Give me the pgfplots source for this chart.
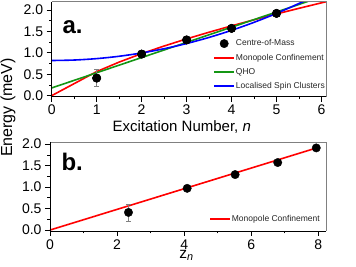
\documentclass[border=0pt]{standalone}
\usepackage{pgfplots}
\pgfplotsset{compat=1.18}
\usepackage{fontspec}
\setmainfont{Liberation Sans}
\definecolor{qgreen}{RGB}{20,150,20}
\definecolor{mred}{RGB}{255,0,0}
\definecolor{lblue}{RGB}{0,0,255}
\begin{document}
\begin{tikzpicture}
\useasboundingbox (0,0) rectangle (356pt,266pt);
\pgfplotsset{
 myax/.style={
  scale only axis,
  axis line style={draw=none},
  tick align=outside, tick pos=left,
  major tick length=5pt, minor tick length=2.5pt,
  every tick/.style={black, line width=0.6pt},
  tick label style={font=\fontsize{14}{14}\selectfont},
  /pgf/number format/assume math mode=true,
  yticklabel style={/pgf/number format/fixed, /pgf/number format/fixed zerofill, /pgf/number format/precision=1},
  ytick={0,0.5,1,1.5,2}, minor y tick num=1,
  label style={font=\fontsize{15}{15}\selectfont},
  legend cell align=left,
 }
}
\begin{axis}[myax, name=top,
  at={(51.7pt,169.5pt)}, anchor=south west,
  width=274.3pt, height=94.7pt,
  xmin=0, xmax=6.1, ymin=-0.02, ymax=2.19,
  xtick={0,1,2,3,4,5,6}, minor x tick num=1,
  xlabel={Excitation Number, \textit{n}},
  xlabel style={at={(rel axis cs:0.474,0)}, anchor=base, yshift=-35.2pt},
  legend style={at={(rel axis cs:1,0)}, anchor=south east, xshift=3pt, draw=none, fill=none, inner sep=3pt,
    font=\fontsize{8.5}{10}\selectfont, text=black!85,
    nodes={text height=8.4pt, text depth=3.8pt, inner sep=1pt}},
]
\addplot[only marks, mark=*, mark size=4.2pt, black,
  legend image code/.code={\fill[black] (10pt,0pt) circle (4.2pt);}]
 coordinates {(1,0.41) (2,0.97) (3,1.30) (4,1.57) (5,1.92)};
\addlegendentry{Centre-of-Mass}
\addplot[mred, line width=1.6pt,
  legend image code/.code={\draw[mred, line width=1.6pt] (0pt,0pt) -- (20pt,0pt);}] coordinates {
 (0,0) (1,0.561) (1.5,0.783) (2,0.981) (2.5,1.158) (3,1.325) (3.5,1.480)
 (4,1.629) (4.5,1.770) (5,1.907) (5.5,2.038) (6,2.166) (6.1,2.19)};
\addlegendentry{Monopole Confinement}
\addplot[qgreen, line width=1.6pt,
  legend image code/.code={\draw[qgreen, line width=1.6pt] (0pt,0pt) -- (20pt,0pt);}] coordinates {(0,0.18) (5.7,2.20)};
\addlegendentry{QHO}
\addplot[lblue, line width=1.6pt, smooth,
  legend image code/.code={\draw[lblue, line width=1.6pt] (0pt,0pt) -- (20pt,0pt);}] coordinates {
 (0,0.82) (0.5,0.831) (1,0.864) (1.5,0.919) (2,0.996) (2.5,1.095) (3,1.216)
 (3.5,1.359) (4,1.524) (4.5,1.711) (5,1.92) (5.5,2.151) (5.6,2.2)};
\addlegendentry{Localised Spin Clusters}
\addplot[forget plot, only marks, mark=*, mark size=4.2pt, black,
  error bars/.cd, y dir=both, y explicit,
  error bar style={gray, line width=0.6pt},
  error mark options={gray, rotate=90, mark size=2.5pt, line width=0.6pt}]
 coordinates {(1,0.41) +- (0,0.2) (2,0.97) +- (0,0.03) (3,1.30) +- (0,0.03) (4,1.57) +- (0,0.03) (5,1.92) +- (0,0.03)};
\end{axis}
\draw[gray, line width=0.8pt] (top.north west) -- (top.north east) -- (top.south east);
\draw[black, line width=0.8pt] (top.north west) -- (top.south west) -- (top.south east);
\begin{axis}[myax, name=bot,
  at={(50pt,35.1pt)}, anchor=south west,
  width=276pt, height=89pt,
  xmin=0, xmax=8.23, ymin=-0.02, ymax=2.05,
  xtick={0,2,4,6,8}, minor x tick num=1,
  xlabel={z\textsubscript{\textit{n}}},
  xlabel style={at={(rel axis cs:0.495,0)}, anchor=base, yshift=-27.5pt, font=\fontsize{15.5}{15.5}\selectfont},
  legend style={at={(rel axis cs:1,0)}, anchor=south east, xshift=-2pt, yshift=3.7pt, draw=none, fill=none, inner sep=3pt,
    font=\fontsize{8.5}{10}\selectfont, text=black!85,
    nodes={text height=6.5pt, text depth=2pt, inner sep=1pt}},
]
\addplot[mred, line width=1.6pt,
  legend image code/.code={\draw[mred, line width=1.6pt] (0pt,0pt) -- (20pt,0pt);}] coordinates {(0,0) (7.95,1.91)};
\addlegendentry{Monopole Confinement}
\addplot[forget plot, only marks, mark=*, mark size=4.2pt, black,
  error bars/.cd, y dir=both, y explicit,
  error bar style={gray, line width=0.6pt},
  error mark options={gray, rotate=90, mark size=2.5pt, line width=0.6pt}]
 coordinates {(2.34,0.41) +- (0,0.2) (4.09,0.97) +- (0,0.03) (5.52,1.29) +- (0,0.03) (6.79,1.57) +- (0,0.03) (7.94,1.91) +- (0,0.03)};
\end{axis}
\draw[gray, line width=0.8pt] (bot.north west) -- (bot.north east) -- (bot.south east);
\draw[black, line width=0.8pt] (bot.north west) -- (bot.south west) -- (bot.south east);
\node[anchor=base west, font=\bfseries\fontsize{24}{24}\selectfont] at (59pt,233pt) {a.};
\node[anchor=base west, font=\bfseries\fontsize{24}{24}\selectfont] at (58pt,96pt) {b.};
\node[rotate=90, font=\fontsize{16}{16}\selectfont] at (8pt,158.5pt) {Energy (meV)};
\end{tikzpicture}
\end{document}
